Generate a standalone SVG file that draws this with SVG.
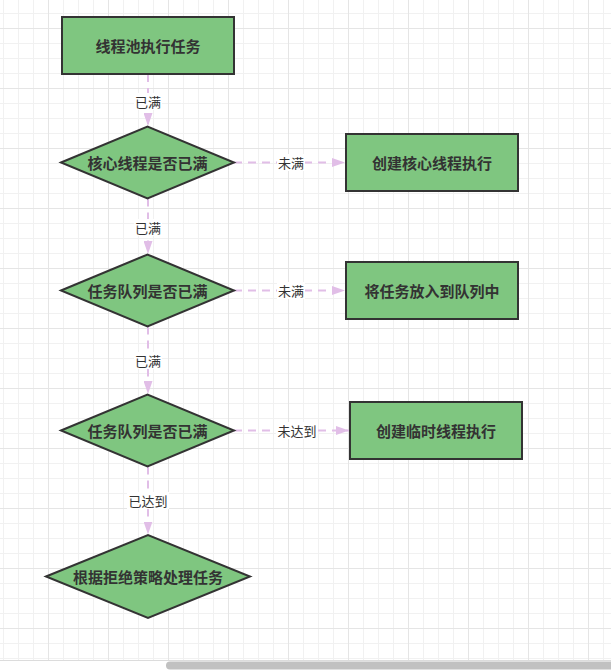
<svg xmlns="http://www.w3.org/2000/svg" width="611" height="670" viewBox="0 0 611 670">
<defs>
<pattern id="grid" x="48" y="28" width="60" height="60" patternUnits="userSpaceOnUse">
<rect x="15" y="0" width="1" height="60" fill="#f1f1f1"/>
<rect x="30" y="0" width="1" height="60" fill="#f1f1f1"/>
<rect x="45" y="0" width="1" height="60" fill="#f1f1f1"/>
<rect x="0" y="15" width="60" height="1" fill="#f1f1f1"/>
<rect x="0" y="30" width="60" height="1" fill="#f1f1f1"/>
<rect x="0" y="45" width="60" height="1" fill="#f1f1f1"/>
<rect x="0" y="0" width="1" height="60" fill="#e5e5e5"/>
<rect x="0" y="0" width="60" height="1" fill="#e5e5e5"/>
</pattern>
<marker id="arr" viewBox="0 0 13 9" refX="13" refY="4.5" markerWidth="13" markerHeight="9" markerUnits="userSpaceOnUse" orient="auto">
<path d="M0,0 L13,4.5 L0,9 Z" fill="#e1bee7"/>
</marker>
<style>
.n{fill:#7fc680;stroke:#333;stroke-width:2}
.nt{font-family:"Noto Sans CJK SC","Liberation Sans",sans-serif;font-size:15px;font-weight:bold;fill:#333;text-anchor:middle;dominant-baseline:central}
.e{fill:none;stroke:#e1bee7;stroke-width:2;stroke-dasharray:8 6}
.lb{fill:#fff}
.lt{font-family:"Noto Sans CJK SC","Liberation Sans",sans-serif;font-size:13px;fill:#333;text-anchor:middle;dominant-baseline:central}
</style>
</defs>
<rect width="611" height="670" fill="#fff"/>
<rect width="611" height="660" fill="url(#grid)"/>
<rect x="0" y="660" width="611" height="10" fill="#fff"/>
<rect x="0" y="660" width="611" height="1" fill="#dcdcdc"/>
<rect x="166" y="661.5" width="460" height="8" rx="4" fill="#c1c1c1"/>

<g id="connectors">
<path class="e" d="M148,74 V126" marker-end="url(#arr)"/>
<path class="e" d="M234,162.5 H345" marker-end="url(#arr)"/>
<path class="e" d="M148,198.5 V254" marker-end="url(#arr)"/>
<path class="e" d="M234,290.5 H345" marker-end="url(#arr)"/>
<path class="e" d="M148,326.5 V394" marker-end="url(#arr)"/>
<path class="e" d="M234,430.5 H349" marker-end="url(#arr)"/>
<path class="e" d="M148,466.5 V534.5" marker-end="url(#arr)"/>
<rect class="lb" x="134" y="93" width="28" height="17"/>
<text class="lt" x="148" y="101.5">已满</text>
<rect class="lb" x="277" y="154" width="28" height="17"/>
<text class="lt" x="291" y="162.5">未满</text>
<rect class="lb" x="134" y="219" width="28" height="17"/>
<text class="lt" x="148" y="227.5">已满</text>
<rect class="lb" x="277" y="282" width="28" height="17"/>
<text class="lt" x="291" y="290.5">未满</text>
<rect class="lb" x="134" y="352" width="28" height="17"/>
<text class="lt" x="148" y="360.5">已满</text>
<rect class="lb" x="276" y="422" width="42" height="17"/>
<text class="lt" x="297" y="430.5">未达到</text>
<rect class="lb" x="127" y="492" width="42" height="17"/>
<text class="lt" x="148" y="500.5">已达到</text>
</g>

<g id="n1">
<rect class="n" x="62" y="17" width="172" height="57"/>
<text class="nt" x="148" y="45.5">线程池执行任务</text>
</g>
<g id="d1">
<polygon class="n" points="61,162.5 147.5,126.5 234,162.5 147.5,198.5"/>
<text class="nt" x="147.5" y="162.5">核心线程是否已满</text>
</g>
<g id="n2">
<rect class="n" x="346" y="134" width="172" height="57"/>
<text class="nt" x="432" y="162.5">创建核心线程执行</text>
</g>
<g id="d2">
<polygon class="n" points="61,290.5 147.5,254.5 234,290.5 147.5,326.5"/>
<text class="nt" x="147.5" y="290.5">任务队列是否已满</text>
</g>
<g id="n3">
<rect class="n" x="346" y="262" width="172" height="57"/>
<text class="nt" x="432" y="290.5">将任务放入到队列中</text>
</g>
<g id="d3">
<polygon class="n" points="61,430.5 147.5,394.5 234,430.5 147.5,466.5"/>
<text class="nt" x="147.5" y="430.5">任务队列是否已满</text>
</g>
<g id="n4">
<rect class="n" x="350" y="402" width="172" height="57"/>
<text class="nt" x="436" y="430.5">创建临时线程执行</text>
</g>
<g id="d4">
<polygon class="n" points="46,576.5 148,535 250,576.5 148,618"/>
<text class="nt" x="148" y="576.5">根据拒绝策略处理任务</text>
</g>
</svg>
